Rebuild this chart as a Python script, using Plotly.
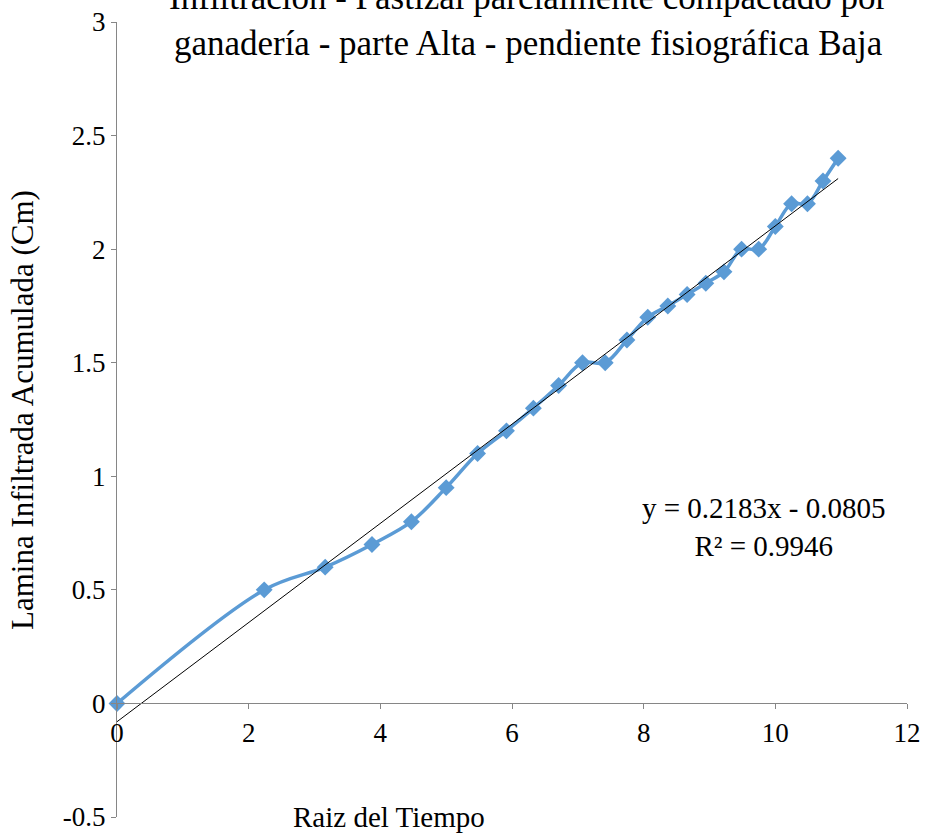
import plotly.graph_objects as go

# Data
raiz_tiempo = [0, 2.236, 3.162, 3.873, 4.472, 5.0, 5.477, 5.916, 6.325, 6.708,
               7.071, 7.416, 7.746, 8.062, 8.367, 8.660, 8.944, 9.220, 9.487,
               9.747, 10.0, 10.247, 10.488, 10.724, 10.954]
lamina = [0, 0.5, 0.6, 0.7, 0.8, 0.95, 1.1, 1.2, 1.3, 1.4,
          1.5, 1.5, 1.6, 1.7, 1.75, 1.8, 1.85, 1.9, 2.0,
          2.0, 2.1, 2.2, 2.2, 2.3, 2.4]

slope = 0.2183
intercept = -0.0805
r2 = 0.9946

y_tickvals = [-0.5, 0, 0.5, 1, 1.5, 2, 2.5, 3]
y_ticktext = ["-0.5", "0", "0.5", "1", "1.5", "2", "2.5", "3"]
x_tickvals = [0, 2, 4, 6, 8, 10, 12]
x_ticktext = ["0", "2", "4", "6", "8", "10", "12"]

title_text = ("Infiltración - Pastizal parcialmente compactado por<br>"
              "ganadería - parte Alta - pendiente fisiográfica Baja")

FONT = "Liberation Serif, Times New Roman, serif"
AXC = "#868686"
BLUE = "#5B9BD5"

trend_x = [raiz_tiempo[0], raiz_tiempo[-1]]
trend_y = [slope * v + intercept for v in trend_x]

fig = go.Figure()
fig.add_trace(go.Scatter(
    x=raiz_tiempo, y=lamina, mode="lines+markers",
    line=dict(color=BLUE, width=3.5, shape="spline", smoothing=1),
    marker=dict(symbol="diamond", size=13, color=BLUE),
    showlegend=False, hoverinfo="x+y", cliponaxis=False))
fig.add_trace(go.Scatter(
    x=trend_x, y=trend_y, mode="lines",
    line=dict(color="black", width=1),
    showlegend=False, hoverinfo="skip"))

fig.update_layout(
    width=926, height=836,
    margin=dict(l=117, r=19, t=22, b=19),
    paper_bgcolor="white", plot_bgcolor="white",
    font=dict(family=FONT, size=27, color="black"),
    xaxis=dict(range=[0, 12], tickvals=x_tickvals, ticktext=x_ticktext,
               showgrid=False, zeroline=False, showline=True,
               linecolor=AXC, linewidth=1, ticks="outside", ticklen=5,
               tickcolor=AXC, anchor="free", position=0.5 / 3.5,
               tickfont=dict(size=27), automargin=False),
    yaxis=dict(range=[-0.5, 3], tickvals=y_tickvals, ticktext=y_ticktext,
               showgrid=False, zeroline=False, showline=True,
               linecolor=AXC, linewidth=1, ticks="outside", ticklen=5,
               tickcolor=AXC, tickfont=dict(size=27), automargin=False),
    annotations=[
        dict(text=title_text, xref="paper", yref="paper",
             x=(528 - 117) / 790, y=(817 - 65) / 795,
             xanchor="center", yanchor="bottom", showarrow=False,
             font=dict(size=35, family=FONT)),
        dict(text="Lamina Infiltrada Acumulada (Cm)", xref="paper", yref="paper",
             x=(22 - 117) / 790, y=(817 - 410) / 795, textangle=-90,
             xanchor="center", yanchor="middle", showarrow=False,
             font=dict(size=31, family=FONT)),
        dict(text="Raiz del Tiempo", xref="paper", yref="paper",
             x=(389 - 117) / 790, y=0, xanchor="center", yanchor="middle",
             showarrow=False, font=dict(size=29, family=FONT)),
        dict(text=f"y = {slope}x - {abs(intercept)}<br>R² = {r2}",
             xref="paper", yref="paper",
             x=(764 - 117) / 790, y=(817 - 527) / 795,
             xanchor="center", yanchor="middle", showarrow=False, align="center",
             font=dict(size=29, family=FONT)),
    ],
)

fig.write_html("out.html")
